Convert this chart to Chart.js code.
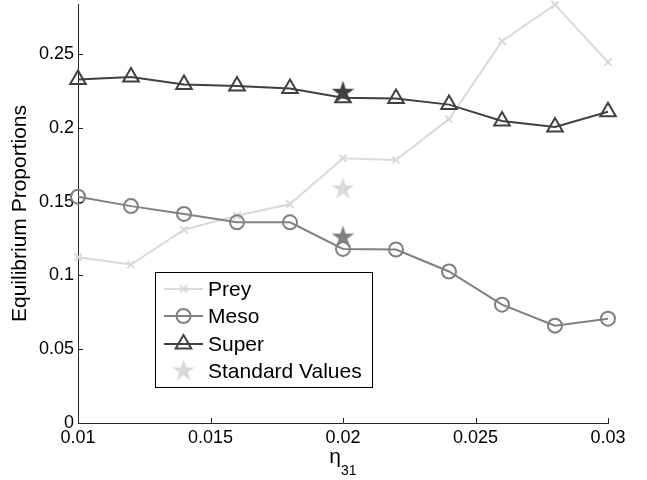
<!DOCTYPE html>
<html>
<head>
<meta charset="utf-8">
<title>Equilibrium Proportions</title>
<script src="https://cdn.jsdelivr.net/npm/chart.js@4.4.1/dist/chart.umd.min.js"></script>
<style>
  html, body { margin: 0; padding: 0; background: #fff; }
  #wrap { width: 647px; height: 480px; position: relative; }
</style>
</head>
<body>
<div id="wrap"><canvas id="eqChart"></canvas></div>
<script>
// eta_31 sweep and equilibrium proportions
const etaValues = [0.010, 0.012, 0.014, 0.016, 0.018, 0.020, 0.022, 0.024, 0.026, 0.028, 0.030];
const preyValues = [0.1124, 0.1074, 0.131, 0.1405, 0.1484, 0.1795, 0.1782, 0.206, 0.2588, 0.2835, 0.2446];
const mesoValues = [0.1534, 0.147, 0.1417, 0.136, 0.136, 0.118, 0.1176, 0.1027, 0.0802, 0.066, 0.0707];
const superValues = [0.2329, 0.2345, 0.2295, 0.2284, 0.2268, 0.2205, 0.22, 0.2158, 0.2047, 0.2007, 0.211];

// values at the standard parameter set
const standardEta = 0.02;
const standardValues = [0.1586, 0.1259, 0.224];

const yTicks = [0, 0.05, 0.1, 0.15, 0.2, 0.25];
const xTicks = [0.01, 0.015, 0.02, 0.025, 0.03];

const preyColor = '#d9d9d9';
const mesoColor = '#808080';
const superColor = '#404040';
const axisColor = '#262626';
const fontFamily = '"Liberation Sans", Arial, Helvetica, sans-serif';
const tickSize = 18;
const labelSize = 21;

function toPoints(xs, ys) {
    return xs.map((x, i) => ({ x: x, y: ys[i] }));
}

// filled pentagram used as a point image
function makeStar(color, r) {
    const size = Math.ceil(r * 2 + 4);
    const c = document.createElement('canvas');
    c.width = size;
    c.height = size;
    const g = c.getContext('2d');
    const cx = size / 2, cy = size / 2;
    const inner = r * 0.382;
    g.beginPath();
    for (let i = 0; i < 10; i++) {
        const rad = (i % 2 === 0) ? r : inner;
        const a = -Math.PI / 2 + i * Math.PI / 5;
        const px = cx + rad * Math.cos(a);
        const py = cy + rad * Math.sin(a);
        if (i === 0) g.moveTo(px, py); else g.lineTo(px, py);
    }
    g.closePath();
    g.fillStyle = color;
    g.fill();
    g.lineWidth = 1.5;
    g.strokeStyle = color;
    g.stroke();
    return c;
}

const starImages = [makeStar(preyColor, 9.5), makeStar(mesoColor, 9.5), makeStar(superColor, 9.5)];

// inward tick marks and the x axis title
const innerTicks = {
    id: 'innerTicks',
    afterDraw(chart) {
        const ctx = chart.ctx;
        const xs = chart.scales.x, ys = chart.scales.y;
        const area = chart.chartArea;
        ctx.save();
        ctx.strokeStyle = axisColor;
        ctx.lineWidth = 1;
        ctx.beginPath();
        yTicks.forEach(v => {
            const py = Math.round(ys.getPixelForValue(v)) + 0.5;
            ctx.moveTo(area.left, py);
            ctx.lineTo(area.left + 5, py);
        });
        xTicks.forEach(v => {
            const px = Math.round(xs.getPixelForValue(v)) + 0.5;
            ctx.moveTo(px, area.bottom);
            ctx.lineTo(px, area.bottom - 5);
        });
        ctx.stroke();

        // eta with subscript 31
        const cx = (xs.getPixelForValue(0.01) + xs.getPixelForValue(0.03)) / 2;
        ctx.fillStyle = '#000';
        ctx.textBaseline = 'alphabetic';
        ctx.textAlign = 'left';
        ctx.font = labelSize + 'px ' + fontFamily;
        const etaW = ctx.measureText('\u03b7').width;
        ctx.font = '14px ' + fontFamily;
        const subW = ctx.measureText('31').width;
        const startX = cx - (etaW + subW) / 2;
        ctx.font = labelSize + 'px ' + fontFamily;
        ctx.fillText('\u03b7', startX, 463);
        ctx.font = '14px ' + fontFamily;
        ctx.fillText('31', startX + etaW, 475);
        ctx.restore();
    }
};

// legend box placed inside the axes
const boxLegend = {
    id: 'boxLegend',
    afterDraw(chart) {
        const ctx = chart.ctx;
        const left = 155, top = 272, right = 372, bottom = 387;
        const rows = [289, 316, 344, 371];
        ctx.save();
        ctx.fillStyle = '#fff';
        ctx.fillRect(left, top, right - left, bottom - top);
        ctx.strokeStyle = '#000';
        ctx.lineWidth = 1;
        ctx.strokeRect(left + 0.5, top + 0.5, right - left, bottom - top);

        chart.data.datasets.forEach((ds, i) => {
            const y = rows[i];
            if (ds.showLine !== false) {
                ctx.strokeStyle = ds.borderColor;
                ctx.lineWidth = ds.borderWidth;
                ctx.beginPath();
                ctx.moveTo(164, y);
                ctx.lineTo(203, y);
                ctx.stroke();
            }
            const style = Array.isArray(ds.pointStyle) ? ds.pointStyle[0] : ds.pointStyle;
            ctx.fillStyle = 'rgba(0,0,0,0)';
            ctx.strokeStyle = ds.borderColor;
            ctx.lineWidth = ds.pointBorderWidth || 1;
            Chart.helpers.drawPoint(ctx, {
                pointStyle: style,
                radius: ds.pointRadius,
                rotation: 0,
                borderWidth: ds.pointBorderWidth || 1
            }, 183.5, y);
            ctx.fillStyle = '#000';
            ctx.font = labelSize + 'px ' + fontFamily;
            ctx.textAlign = 'left';
            ctx.textBaseline = 'alphabetic';
            ctx.fillText(ds.label, 208, y + 7);
        });
        ctx.restore();
    }
};

const ctx = document.getElementById('eqChart').getContext('2d');

const eqChart = new Chart(ctx, {
    type: 'scatter',
    data: {
        datasets: [
            {
                label: 'Prey',
                data: toPoints(etaValues, preyValues),
                showLine: true,
                clip: false,
                borderColor: preyColor,
                backgroundColor: 'rgba(0,0,0,0)',
                borderWidth: 2,
                pointStyle: 'crossRot',
                pointRadius: 5,
                pointBorderWidth: 2,
                pointBorderColor: preyColor,
                order: 3
            },
            {
                label: 'Meso',
                data: toPoints(etaValues, mesoValues),
                showLine: true,
                clip: false,
                borderColor: mesoColor,
                backgroundColor: 'rgba(0,0,0,0)',
                borderWidth: 2,
                pointStyle: 'circle',
                pointRadius: 7,
                pointBorderWidth: 2,
                pointBorderColor: mesoColor,
                pointBackgroundColor: 'rgba(0,0,0,0)',
                order: 2
            },
            {
                label: 'Super',
                data: toPoints(etaValues, superValues),
                showLine: true,
                clip: false,
                borderColor: superColor,
                backgroundColor: 'rgba(0,0,0,0)',
                borderWidth: 2,
                pointStyle: 'triangle',
                pointRadius: 9,
                pointBorderWidth: 2,
                pointBorderColor: superColor,
                pointBackgroundColor: 'rgba(0,0,0,0)',
                order: 1
            },
            {
                label: 'Standard Values',
                data: standardValues.map(v => ({ x: standardEta, y: v })),
                showLine: false,
                clip: false,
                borderColor: preyColor,
                borderWidth: 0,
                pointStyle: starImages,
                pointRadius: 10,
                order: 0
            }
        ]
    },
    options: {
        responsive: true,
        maintainAspectRatio: false,
        animation: false,
        layout: {
            autoPadding: false,
            padding: { top: 4, right: 39, left: 0, bottom: 0 }
        },
        scales: {
            x: {
                type: 'linear',
                min: 0.01,
                max: 0.03,
                grid: { display: false, drawTicks: false },
                border: { display: true, color: axisColor, width: 1 },
                ticks: {
                    stepSize: 0.005,
                    padding: 4,
                    color: '#000',
                    font: { family: fontFamily, size: tickSize },
                    maxRotation: 0,
                    callback: v => String(Number(v.toFixed(4)))
                },
                afterFit: scale => {
                    scale.height = 57;
                    scale.paddingLeft = 0;
                    scale.paddingRight = 0;
                }
            },
            y: {
                type: 'linear',
                min: 0,
                max: 0.284,
                grid: { display: false, drawTicks: false },
                border: { display: true, color: axisColor, width: 1 },
                ticks: {
                    stepSize: 0.05,
                    includeBounds: false,
                    padding: 4,
                    color: '#000',
                    font: { family: fontFamily, size: tickSize },
                    callback: v => String(Number(v.toFixed(3)))
                },
                title: {
                    display: true,
                    text: 'Equilibrium Proportions',
                    color: '#000',
                    font: { family: fontFamily, size: labelSize },
                    padding: { top: 8, bottom: 0 }
                },
                afterFit: scale => {
                    scale.width = 78;
                    scale.paddingTop = 0;
                    scale.paddingBottom = 0;
                }
            }
        },
        plugins: {
            legend: { display: false },
            tooltip: { enabled: false }
        }
    },
    plugins: [innerTicks, boxLegend]
});
</script>
</body>
</html>
